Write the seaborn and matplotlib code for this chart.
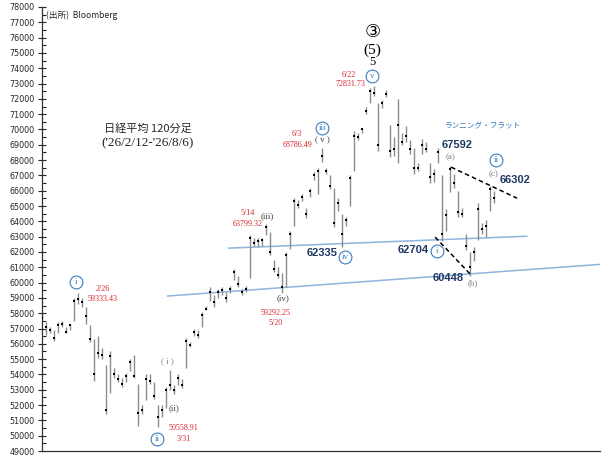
import numpy as np
import pandas as pd
import matplotlib
matplotlib.use('Agg')
import matplotlib.pyplot as plt
import seaborn as sns

# --------------------------------------------------
# Data (120-min bars)
# --------------------------------------------------

highs = [57900, 57400, 57100, 56900, 57400, 57500, 57100, 57300, 59000, 59333,
         59000, 58400, 57200, 56300, 56500, 55700, 54600, 55500, 54400, 54000,
         53800, 54100, 55000, 55300, 53400, 52000, 54000, 54000, 53500, 52000,
         52000, 53200, 54300, 53300, 54000, 53700, 56350, 56100, 57000, 56900,
         58100, 58500, 59700, 59200, 59600, 59700, 59400, 59800, 60900, 60400,
         59600, 59800, 63100, 62900, 62900, 62900, 63800, 63300, 61500, 61000,
         60600, 62000, 63400, 65500, 65400, 65800, 64900, 66200, 67200, 67500,
         68786, 67500, 67000, 66200, 65500, 64500, 64300, 67000, 69900, 69800,
         70100, 71500, 72700, 72831, 71700, 71900, 72600, 70300, 69500, 72000,
         69800, 70200, 69300, 68800, 67800, 69400, 69200, 67800, 67400, 68800,
         67000, 64800, 67592, 67100, 66000, 64900, 63200, 62000, 62300, 65200,
         63900, 64100, 66302, 66000]
lows = [57400, 56600, 56700, 56200, 56700, 57100, 56700, 56900, 57500, 58600,
        58400, 57300, 56100, 53600, 55100, 55000, 51400, 52800, 53800, 53500,
        53200, 53500, 54200, 53800, 50650, 51400, 52300, 53400, 52400, 50559,
        51200, 51800, 53000, 52700, 53300, 53100, 54400, 55800, 56500, 56400,
        57100, 58200, 58800, 58400, 59000, 59200, 58700, 59300, 60200, 59700,
        59200, 59400, 60300, 62400, 62300, 62400, 63100, 61800, 60700, 60300,
        59292, 59700, 62200, 63700, 64900, 65300, 64200, 65600, 66700, 65800,
        67900, 67100, 66100, 63600, 64700, 62335, 63700, 65000, 67300, 69300,
        69800, 71000, 71700, 72200, 68600, 71400, 72100, 68200, 68300, 67800,
        69000, 69200, 68400, 67100, 67300, 68400, 68500, 66500, 66600, 67800,
        62704, 63400, 65900, 66200, 64300, 64300, 62100, 60448, 61400, 62800,
        63200, 63000, 64700, 65200]
closes = [57700, 57100, 56900, 56400, 57200, 57300, 56800, 57200, 58800, 58900,
          58700, 57800, 56300, 54000, 55400, 55300, 51700, 55200, 54000, 53700,
          53400, 53900, 54800, 53900, 51500, 51700, 53700, 53600, 52600, 51200,
          51700, 53000, 53300, 53000, 53800, 53300, 56200, 55900, 56800, 56600,
          57900, 58300, 59400, 58700, 59400, 59500, 59000, 59600, 60700, 59900,
          59400, 59600, 62900, 62600, 62700, 62800, 63600, 62000, 60900, 60500,
          59700, 61800, 63200, 65300, 65100, 65600, 64500, 66000, 67000, 67300,
          68300, 67300, 66300, 63900, 65200, 63200, 64100, 66800, 69600, 69500,
          70000, 71200, 72500, 72400, 69000, 71700, 72300, 68600, 68700, 70300,
          69200, 69600, 68700, 67500, 67500, 69000, 68700, 66900, 67100, 68500,
          63200, 64400, 67400, 66500, 64600, 64500, 62400, 61000, 62000, 64800,
          63500, 63700, 66100, 65500]

bars = pd.DataFrame({'high': highs, 'low': lows, 'close': closes})
bars['bar'] = np.arange(len(bars))

# channel lines (bar index, price)
upper_line_x = [46.5, 121.25]
upper_line_y = [62250, 63030]
lower_line_x = [31.25, 140]
lower_line_y = [59120, 61200]

# dashed lines of the running flat
flat_top_x = [102.25, 118.75]
flat_top_y = [67540, 65510]
flat_bot_x = [98.25, 107.25]
flat_bot_y = [62970, 60490]

# circled wave labels (text, bar index, price)
wave_circles = [('i', 8.5, 60030), ('ii', 28.75, 49780), ('iii', 70, 70080),
                ('iv', 75.75, 61660), ('v', 82.5, 73480), ('i', 98.75, 62050),
                ('ii', 113.5, 67990)]

# sub-wave labels in brackets
sub_waves = [('( i )', 31.25, 54870, '#7f7f7f'), ('(ii)', 33, 51800, '#404040'),
             ('(iii)', 56.25, 64340, '#404040'), ('(iv)', 60.25, 58990, '#404040'),
             ('( v )', 70, 69300, '#404040'), ('(a)', 102, 68190, '#7f7f7f'),
             ('(b)', 107.75, 59970, '#7f7f7f'), ('(c)', 112.75, 67080, '#7f7f7f')]

# red date / price notes
red_notes = [('2/26', 15, 59575), ('59333.43', 15, 58920),
             ('50558.91', 35.25, 50500), ('3/31', 35.25, 49780),
             ('5/14', 51.25, 64530), ('63799.32', 51.25, 63820),
             ('59292.25', 58.25, 58010), ('5/20', 58.25, 57350),
             ('6/3', 63.5, 69690), ('68786.49', 63.75, 68970),
             ('6/22', 76.75, 73540), ('72831.73', 77, 72950)]

# bold navy price labels
navy_notes = [('62335', 70, 61920), ('67592', 103.75, 68970),
              ('66302', 118.25, 66690), ('62704', 92.75, 62120),
              ('60448', 101.5, 60290)]

# --------------------------------------------------
# Plot
# --------------------------------------------------

sns.set_style('ticks')
plt.rcParams['font.family'] = ['DejaVu Sans', 'Noto Sans CJK JP']

fig = plt.figure(figsize=(6.04, 4.65), dpi=100)
ax = fig.add_axes([41.7 / 604, 14 / 465, 558.3 / 604, 444 / 465])

# candles: gray high-low line with a small black close mark
ax.vlines(bars['bar'], bars['low'], bars['high'], color='#8c8c8c', linewidth=1.0, zorder=2)
sns.scatterplot(data=bars, x='bar', y='close', marker='s', s=3.5, color='black',
                linewidth=0, ax=ax, zorder=3, legend=False)

# channel and flat lines
blue_line = '#8fb4de'
ax.plot(upper_line_x, upper_line_y, color=blue_line, linewidth=1.1, zorder=1)
ax.plot(lower_line_x, lower_line_y, color=blue_line, linewidth=1.1, zorder=1)
ax.plot(flat_top_x, flat_top_y, color='black', linewidth=1.1, linestyle=(0, (3, 2)), zorder=4)
ax.plot(flat_bot_x, flat_bot_y, color='black', linewidth=1.1, linestyle=(0, (3, 2)), zorder=4)

# circled wave labels
circle_blue = '#3a7cc0'
for label, cx, cy in wave_circles:
    ax.scatter(cx, cy, s=85, facecolor='white', edgecolor=circle_blue, linewidth=0.8, zorder=5)
    ax.text(cx, cy, label, ha='center', va='center', fontsize=6.5, color=circle_blue,
            family='Liberation Serif', zorder=6)

for label, tx, ty, col in sub_waves:
    ax.text(tx, ty, label, ha='center', va='center', fontsize=6.5, color=col,
            family='Liberation Serif')

for label, tx, ty in red_notes:
    ax.text(tx, ty, label, ha='center', va='center', fontsize=5.8, color='#d6262b',
            family='Liberation Serif')

for label, tx, ty in navy_notes:
    ax.text(tx, ty, label, ha='center', va='center', fontsize=8, color='#1f3864',
            family='Liberation Sans', fontweight='bold')

# wave degree labels above the top
ax.text(82.5, 76350, '③', ha='center', va='center', fontsize=13, color='black',
        family=['DejaVu Sans', 'Noto Sans CJK JP'])
ax.text(82.5, 75170, '(5)', ha='center', va='center', fontsize=11, color='black',
        family='Liberation Serif')
ax.text(82.5, 74390, '5', ha='center', va='center', fontsize=9, color='black',
        family='Liberation Serif')

ax.text(110.25, 70210, 'ランニング・フラット', ha='center', va='center', fontsize=5.5,
        color='#2e75b6', family=['Noto Sans CJK JP', 'DejaVu Sans'])

# title and source
ax.text(26.25, 70080, '日経平均 120分足', ha='center', va='center', fontsize=8,
        family=['Noto Sans CJK JP', 'DejaVu Sans'])
ax.text(26.25, 69100, "('26/2/12-'26/8/6)", ha='center', va='center', fontsize=9.5,
        family=['Liberation Serif', 'Noto Sans CJK JP'])
ax.text(0.8, 77450, '(出所)  Bloomberg', ha='left', va='center', fontsize=6.2,
        family=['Noto Sans CJK JP', 'DejaVu Sans'])

# axes
ax.set_xlim(-0.2, 139.5)
ax.set_ylim(49000, 78000)
ax.set_yticks(np.arange(49000, 78001, 1000))
ax.set_yticks(np.arange(49500, 78000, 1000), minor=True)
ax.set_xticks([])
ax.tick_params(axis='y', which='major', direction='inout', length=6, width=0.8,
               labelsize=5.8, pad=2)
ax.tick_params(axis='y', which='minor', direction='in', length=3, width=0.8)
ax.set_xlabel('')
ax.set_ylabel('')
sns.despine(ax=ax, top=True, right=True)
for side in ('left', 'bottom'):
    ax.spines[side].set_color('#333333')
    ax.spines[side].set_linewidth(0.9)

fig.savefig('out.png', dpi=100)
